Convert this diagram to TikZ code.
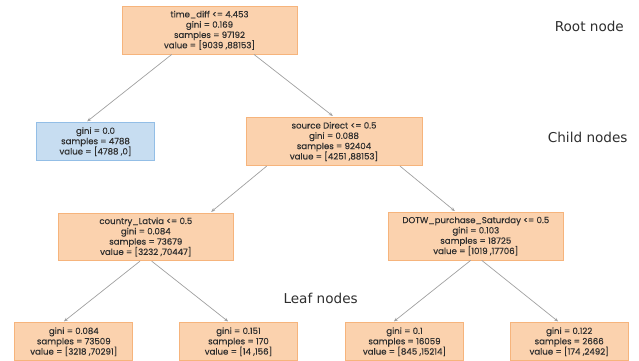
\documentclass[tikz,border=0pt]{standalone}
\usepackage{fontspec}
\setmainfont{Poppins}
\newfontfamily\boxfont{Poppins}[BoldFont=Poppins, BoldFeatures={FakeBold=0.3}]
\newfontfamily\labelfont{DejaVu Sans}
\usetikzlibrary{arrows.meta}

\definecolor{splitfill}{HTML}{FBD2AE}
\definecolor{splitedge}{HTML}{F6B47C}
\definecolor{purefill}{HTML}{C7DDF1}
\definecolor{pureedge}{HTML}{93BEE6}
\definecolor{nodetext}{HTML}{2E2E2E}
\definecolor{edgegray}{HTML}{A0A0A0}

\tikzset{
  treebox/.style={draw=splitedge, fill=splitfill, line width=0.8pt,
    inner sep=0pt, align=center, text=nodetext,
    font=\boxfont\bfseries\fontsize{8.6}{10.3}\selectfont},
  bigbox/.style={treebox, minimum width=175pt, minimum height=47.5pt},
  leafbox/.style={treebox, minimum width=118pt, minimum height=38pt},
  purebox/.style={leafbox, draw=pureedge, fill=purefill},
  branch/.style={draw=edgegray, line width=0.7pt,
    -{Stealth[length=4pt,width=3.2pt]}, shorten >=1.5pt},
  tag/.style={font=\labelfont\fontsize{13.6}{15}\selectfont, text=black!82}
}

\begin{document}
\begin{tikzpicture}[x=1pt, y=-1pt]
  \useasboundingbox (0,0) rectangle (639,360);

  % split nodes
  \node[bigbox] (root) at (209.5,30.3)
    {time\_diff <= 4.453\\ gini = 0.169\\ samples = 97192\\ value = [9039 ,88153]};
  \node[bigbox, minimum width=176pt, minimum height=48.4pt] (src) at (334,141.5)
    {source Direct <= 0.5\\ gini = 0.088\\ samples = 92404\\ value = [4251 ,88153]};
  \node[bigbox] (lat) at (145.8,237)
    {country\_Latvia <= 0.5\\ gini = 0.084\\ samples = 73679\\ value = [3232 ,70447]};
  \node[bigbox] (sat) at (475.8,236.2)
    {DOTW\_purchase\_Saturday <= 0.5\\ gini = 0.103\\ samples = 18725\\ value = [1019 ,17706]};

  % leaves
  \node[purebox] (pure) at (95.5,141.7)
    {gini = 0.0\\ samples = 4788\\ value = [4788 ,0]};
  \node[leafbox] (lfa) at (73.8,341.8)
    {gini = 0.084\\ samples = 73509\\ value = [3218 ,70291]};
  \node[leafbox] (lfb) at (238.5,341.8)
    {gini = 0.151\\ samples = 170\\ value = [14 ,156]};
  \node[leafbox] (lfc) at (404.5,341.8)
    {gini = 0.1\\ samples = 16059\\ value = [845 ,15214]};
  \node[leafbox] (lfd) at (569.2,341.8)
    {gini = 0.122\\ samples = 2666\\ value = [174 ,2492]};

  % branches
  \draw[branch] ([xshift=-37.8pt]root.south) -- ([xshift=-9.5pt]pure.north);
  \draw[branch] ([xshift=44.5pt]root.south) -- (src.north);
  \draw[branch] ([xshift=-67.3pt]src.south) -- ([xshift=64.2pt]lat.north);
  \draw[branch] ([xshift=66pt]src.south) -- ([xshift=-19.8pt]sat.north);
  \draw[branch] ([xshift=-5.8pt]lat.south) -- ([xshift=-11.1pt]lfa.north);
  \draw[branch] ([xshift=5.9pt]lat.south) -- ([xshift=-9.2pt]lfb.north);
  \draw[branch] ([xshift=-5.1pt]sat.south) -- ([xshift=-11.8pt]lfc.north);
  \draw[branch] ([xshift=5.9pt]sat.south) -- ([xshift=-9.9pt]lfd.north);

  % level captions
  \node[tag] (capRoot) at (589.3,26) {Root node};
  \node[tag] (capChild) at (587.7,137.7) {Child nodes};
  \node[tag, anchor=west] (capLeaf) at (280,298) {Leaf nodes};
\end{tikzpicture}
\end{document}
